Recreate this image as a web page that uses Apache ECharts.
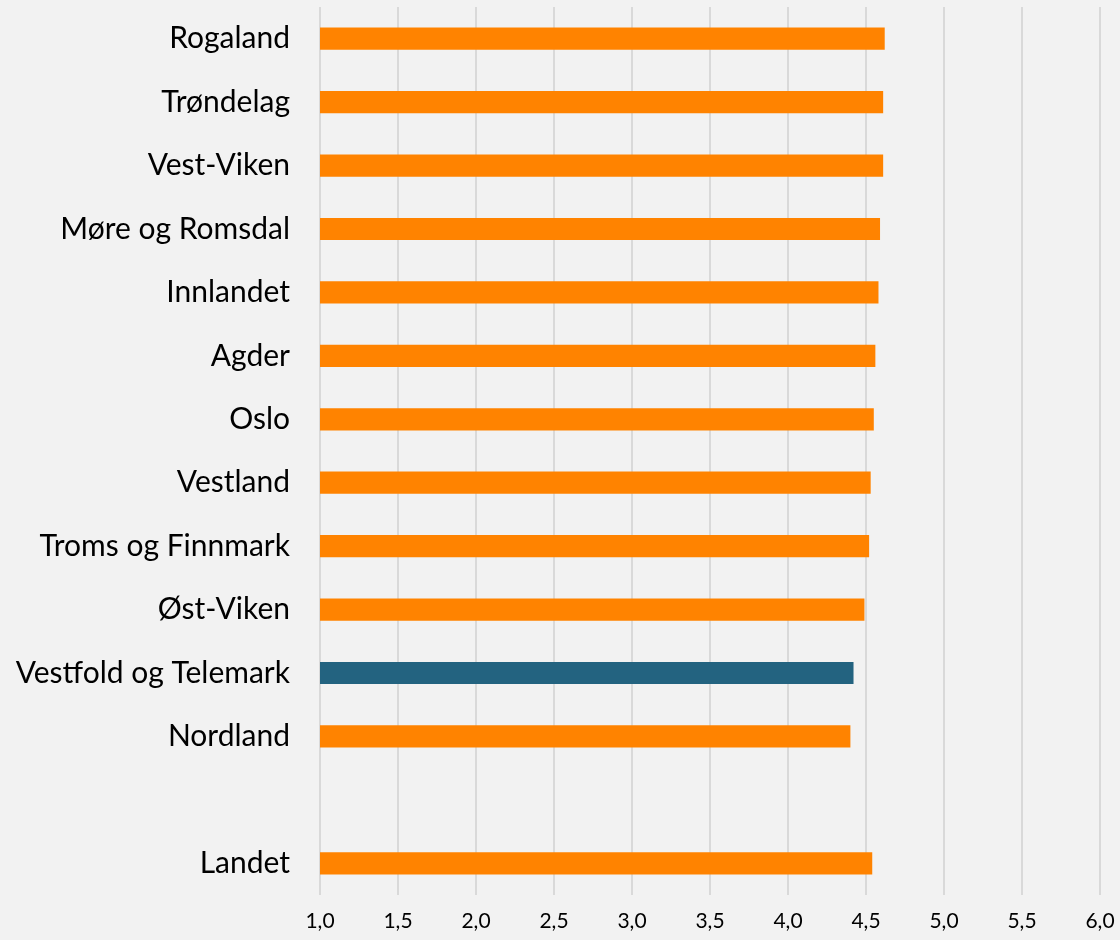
<!DOCTYPE html>
<html>
<head>
<meta charset="utf-8">
<script src="https://cdn.jsdelivr.net/npm/echarts@6/dist/echarts.min.js"></script>
<style>
  html, body { margin: 0; padding: 0; background: #f2f2f2; }
  #chart { width: 1120px; height: 940px; }
</style>
</head>
<body>
<div id="chart"></div>
<script>
// fylker, ovenfra og ned (tom rad før Landet)
const categories = ['Rogaland', 'Trøndelag', 'Vest-Viken', 'Møre og Romsdal', 'Innlandet', 'Agder',
  'Oslo', 'Vestland', 'Troms og Finnmark', 'Øst-Viken', 'Vestfold og Telemark', 'Nordland', '', 'Landet'];
const values = [4.62, 4.61, 4.61, 4.59, 4.58, 4.56, 4.55, 4.53, 4.52, 4.49, 4.42, 4.40, null, 4.54];
const highlight = 'Vestfold og Telemark';
const xTicks = [1.0, 1.5, 2.0, 2.5, 3.0, 3.5, 4.0, 4.5, 5.0, 5.5, 6.0];

const chart = echarts.init(document.getElementById('chart'));
const option = {
  backgroundColor: '#f2f2f2',
  animation: false,
  grid: { left: 320, right: 20, top: 7, bottom: 45 },
  xAxis: {
    type: 'value',
    min: xTicks[0],
    max: xTicks[xTicks.length - 1],
    interval: 0.5,
    axisLine: { show: false },
    axisTick: { show: false },
    splitLine: { show: true, lineStyle: { color: '#d9d9d9', width: 2 } },
    axisLabel: {
      margin: 16,
      color: '#000',
      fontSize: 21,
      fontFamily: 'Lato',
      formatter: v => v.toFixed(1).replace('.', ',')
    }
  },
  yAxis: {
    type: 'category',
    inverse: true,
    data: categories,
    axisLine: { show: false },
    axisTick: { show: false },
    axisLabel: {
      margin: 30,
      color: '#000',
      fontSize: 30,
      fontFamily: 'Lato'
    }
  },
  series: [{
    type: 'bar',
    barCategoryGap: '65%',
    data: values.map((v, i) => ({
      value: v,
      itemStyle: { color: categories[i] === highlight ? '#236380' : '#ff8300' }
    }))
  }]
};
chart.setOption(option);
</script>
</body>
</html>
